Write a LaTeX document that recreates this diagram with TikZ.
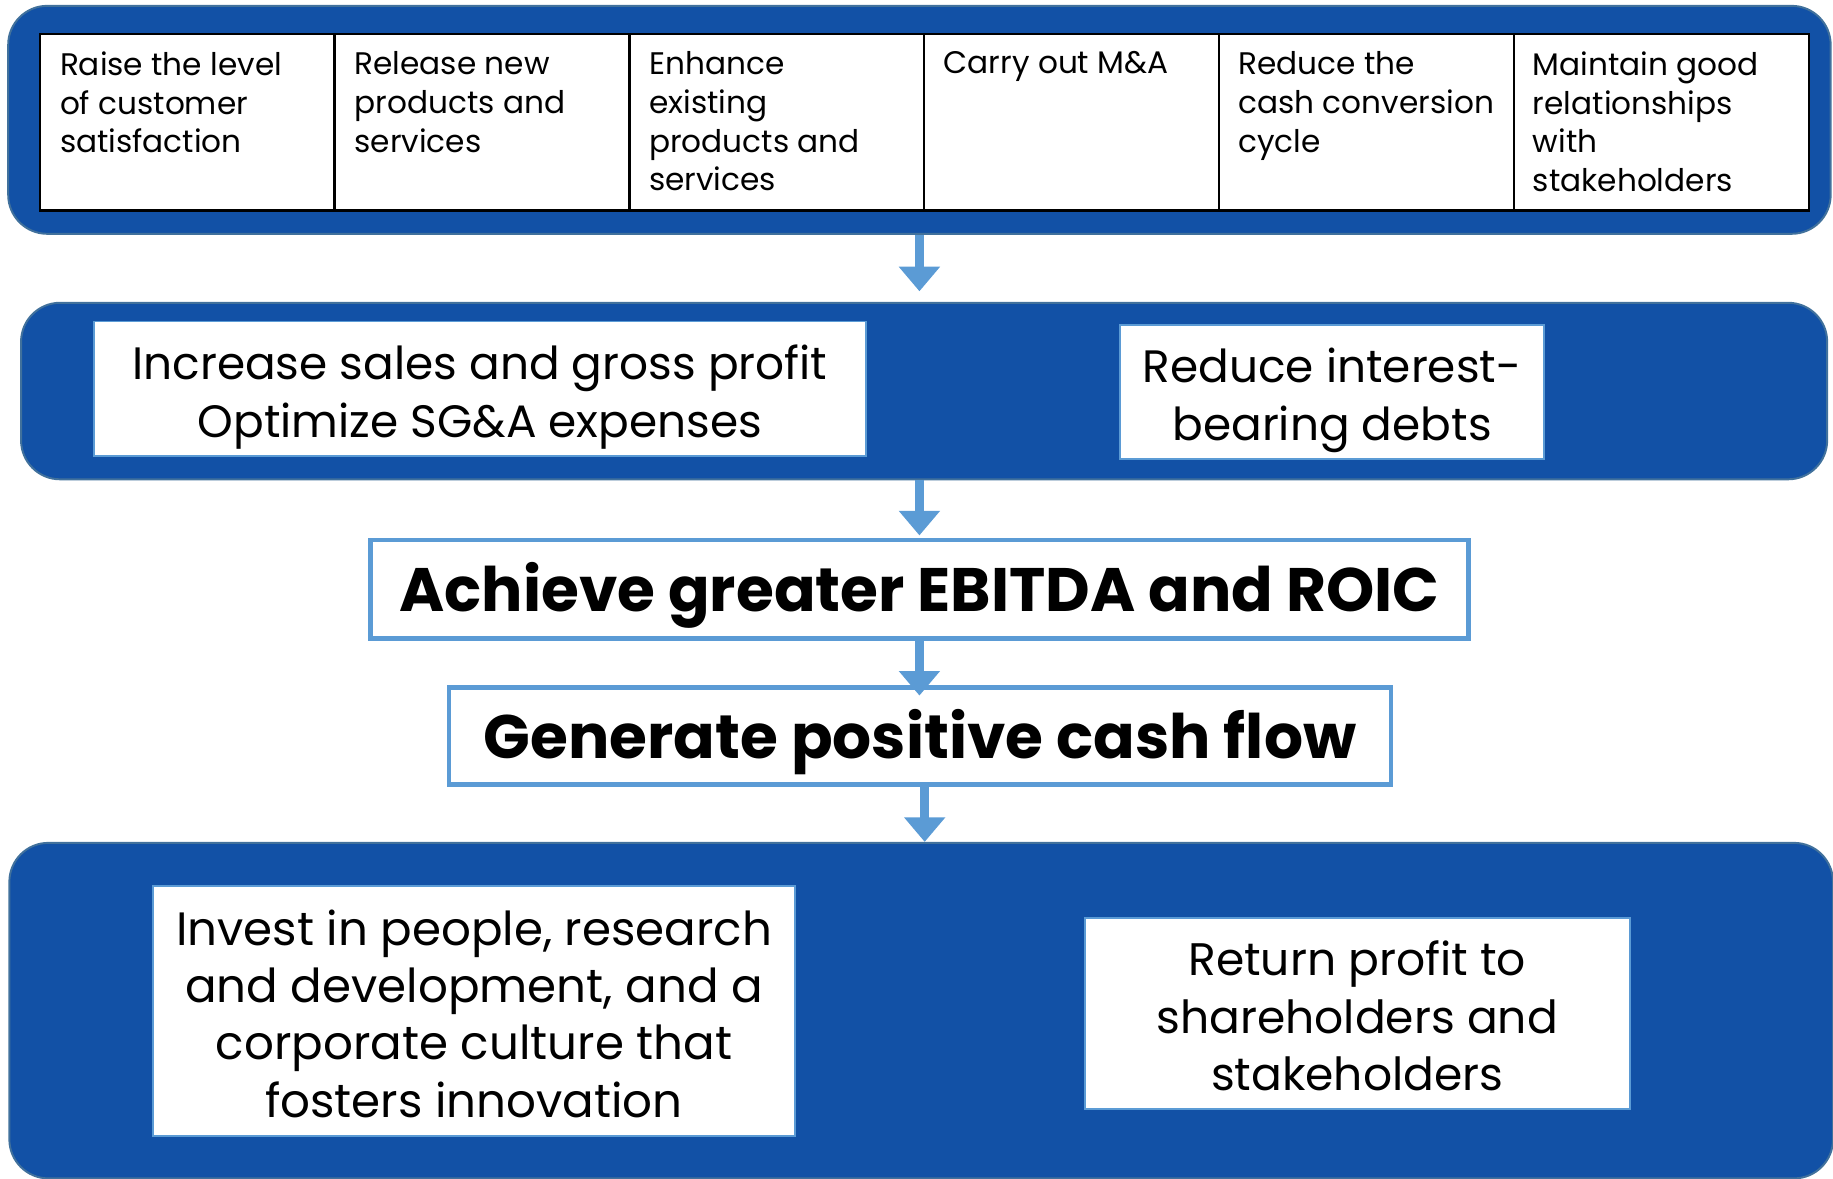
\documentclass[tikz,border=0pt]{standalone}
\usepackage{fontspec}
\setmainfont{Poppins}
\usetikzlibrary{arrows.meta}
\definecolor{panelblue}{HTML}{1251A6}
\definecolor{paneledge}{HTML}{41719C}
\definecolor{lightblue}{HTML}{5B9BD5}
\tikzset{
  panel/.style={draw=paneledge, line width=1pt, fill=panelblue, rounded corners=20pt, inner sep=0pt},
  cell/.style={draw=black, line width=1.2pt, fill=white, minimum width=151.3pt, minimum height=90.6pt, inner sep=0pt},
  celltext/.style={anchor=north west, inner sep=0pt, align=left, font=\fontsize{16}{19.8}\selectfont},
  whitebox/.style={draw=lightblue, line width=1pt, fill=white, inner sep=0pt},
  midtext/.style={inner sep=0pt, align=center, font=\fontsize{23.3}{30}\selectfont},
  bottext/.style={inner sep=0pt, align=center, font=\fontsize{24}{29.4}\selectfont},
  goalbox/.style={draw=lightblue, line width=2.4pt, fill=white, inner sep=0pt},
  goaltext/.style={inner sep=0pt, font=\fontsize{31.5}{36}\selectfont\bfseries},
  flow/.style={draw=lightblue, line width=4.6pt, -{Triangle[width=20.4pt,length=12.6pt]}},
}
\begin{document}
\begin{tikzpicture}[x=0.6pt,y=-0.6pt]
\useasboundingbox (0,0) rectangle (1568,1008);

% top panel with six cells
\node[panel, minimum width=935.4pt, minimum height=117pt] (top) at (786.5,102.5) {};
\node[cell] (c1) at (160.1,104.5) {};
\node[cell] (c2) at (412.3,104.5) {};
\node[cell] (c3) at (664.5,104.5) {};
\node[cell] (c4) at (916.7,104.5) {};
\node[cell] (c5) at (1168.9,104.5) {};
\node[cell] (c6) at (1421.1,104.5) {};
\node[celltext] (t1) at (51,44) {Raise the level\\of customer\\satisfaction};
\node[celltext] (t2) at (303,44) {Release new\\products and\\services};
\node[celltext] (t3) at (555,44) {Enhance\\existing\\products and\\services};
\node[celltext] (t4) at (807,44) {Carry out M\&A};
\node[celltext] (t5) at (1059,44) {Reduce the\\cash conversion\\cycle};
\node[celltext] (t6) at (1311,44) {Maintain good\\relationships\\with\\stakeholders};

% middle panel
\node[panel, minimum width=927pt, minimum height=90.6pt] (mid) at (790.5,334.5) {};
\node[whitebox, minimum width=396.6pt, minimum height=69pt] (boxA) at (410.5,332.5) {};
\node[midtext, yshift=-4.2pt] (tA) at (boxA) {Increase sales and gross profit\\Optimize SG\&A expenses};
\node[whitebox, minimum width=217.8pt, minimum height=69pt] (boxB) at (1139.5,335.5) {};
\node[midtext, yshift=-4.2pt] (tB) at (boxB) {Reduce interest-\\bearing debts};

% goals
\node[goalbox, minimum width=563.4pt, minimum height=50.4pt] (goal1) at (786.5,504) {};
\node[goaltext, yshift=-3pt] (tg1) at (goal1) {Achieve greater EBITDA and ROIC};
\node[goalbox, minimum width=483.6pt, minimum height=49.8pt] (goal2) at (787,629.5) {};
\node[goaltext, yshift=-3pt] (tg2) at (goal2) {Generate positive cash flow};

% bottom panel
\node[panel, minimum width=936pt, minimum height=172.2pt] (bot) at (788,864.5) {};
\node[whitebox, minimum width=329.4pt, minimum height=128.4pt] (boxC) at (405.5,865) {};
\node[bottext, yshift=-1.2pt] (tC) at (boxC) {Invest in people, research\\and development, and a\\corporate culture that\\fosters innovation};
\node[whitebox, minimum width=279.6pt, minimum height=98.4pt] (boxD) at (1161,867) {};
\node[bottext, font=\fontsize{23.4}{29.4}\selectfont, yshift=-1.2pt] (tD) at (boxD) {Return profit to\\shareholders and\\stakeholders};

% arrows
\draw[flow, shorten >=5.4pt] (top.south) -- (top.south |- mid.north);
\draw[flow, shorten >=1.2pt] (goal1.north |- mid.south) -- (goal1.north);
\draw[flow, shorten >=-5.4pt] (goal1.south) -- (goal1.south |- goal2.north);
\draw[flow] ([xshift=2.4pt]goal2.south) -- ([xshift=2.4pt]goal2.south |- bot.north);
\end{tikzpicture}
\end{document}
